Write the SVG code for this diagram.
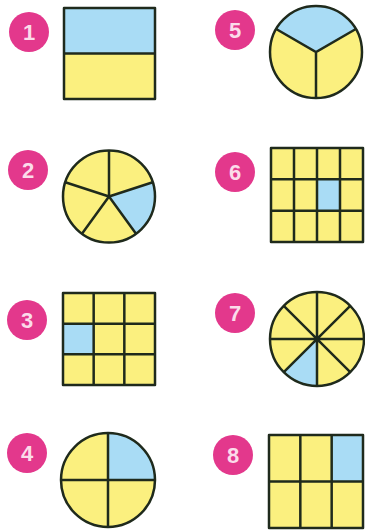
<svg xmlns="http://www.w3.org/2000/svg" width="365" height="532" viewBox="0 0 365 532">
<style>
.b{fill:#a9dcf5}
.y{fill:#fbf07f}
.s{fill:none;stroke:#1f2a1c;stroke-width:2.5;stroke-linejoin:round}
.l{stroke:#1f2a1c;stroke-width:2.5;fill:none}
.badge{fill:#e3388c}
.n{fill:#fbdcea;font-family:"Liberation Sans",Arial,sans-serif;font-weight:bold;font-size:22px;text-anchor:middle;dominant-baseline:central}
</style>
<rect width="365" height="532" fill="#ffffff"/>
<g id="item1">
<circle class="badge" cx="29" cy="32" r="20"/><text class="n" x="29" y="32">1</text>
<rect class="b" x="64" y="8" width="91" height="45.5"/>
<rect class="y" x="64" y="53.5" width="91" height="45.5"/>
<rect class="s" x="64" y="8" width="91" height="91"/>
<line class="l" x1="64" y1="53.5" x2="155" y2="53.5"/>
</g>
<g id="item5">
<circle class="badge" cx="235" cy="30" r="20"/><text class="n" x="235" y="30">5</text>
<circle class="y" cx="316" cy="52" r="46"/>
<path class="b" d="M316,52 L276.16,29 A46,46 0 0 1 355.84,29 Z"/>
<circle class="s" cx="316" cy="52" r="46"/>
<path class="l" d="M276.16,29 L316,52 L355.84,29 M316,52 L316,98"/>
</g>
<g id="item2">
<circle class="badge" cx="28" cy="170" r="20"/><text class="n" x="28" y="170">2</text>
<circle class="y" cx="109" cy="196.5" r="46"/>
<path class="b" d="M109,196.5 L152.75,182.29 A46,46 0 0 1 136.04,233.71 Z"/>
<circle class="s" cx="109" cy="196.5" r="46"/>
<path class="l" d="M109,196.5 L109,150.5 M109,196.5 L152.75,182.29 M109,196.5 L136.04,233.71 M109,196.5 L81.96,233.71 M109,196.5 L65.25,182.29"/>
</g>
<g id="item6">
<circle class="badge" cx="235" cy="172" r="20"/><text class="n" x="235" y="172">6</text>
<rect class="y" x="271" y="148" width="92" height="94"/>
<rect class="b" x="317" y="179.33" width="23" height="31.33"/>
<rect class="s" x="271" y="148" width="92" height="94"/>
<path class="l" d="M294,148 V242 M317,148 V242 M340,148 V242 M271,179.33 H363 M271,210.67 H363"/>
</g>
<g id="item3">
<circle class="badge" cx="27" cy="320" r="20"/><text class="n" x="27" y="320">3</text>
<rect class="y" x="63" y="293" width="92" height="92"/>
<rect class="b" x="63" y="323.67" width="30.67" height="30.67"/>
<rect class="s" x="63" y="293" width="92" height="92"/>
<path class="l" d="M93.67,293 V385 M124.33,293 V385 M63,323.67 H155 M63,354.33 H155"/>
</g>
<g id="item7">
<circle class="badge" cx="235" cy="313" r="20"/><text class="n" x="235" y="313">7</text>
<circle class="y" cx="317" cy="339" r="47"/>
<path class="b" d="M317,339 L317,386 A47,47 0 0 1 283.77,372.23 Z"/>
<circle class="s" cx="317" cy="339" r="47"/>
<path class="l" d="M317,292 V386 M270,339 H364 M283.77,305.77 L350.23,372.23 M350.23,305.77 L283.77,372.23"/>
</g>
<g id="item4">
<circle class="badge" cx="27" cy="453" r="20"/><text class="n" x="27" y="453">4</text>
<circle class="y" cx="108" cy="480" r="47"/>
<path class="b" d="M108,480 L108,433 A47,47 0 0 1 155,480 Z"/>
<circle class="s" cx="108" cy="480" r="47"/>
<path class="l" d="M108,433 V527 M61,480 H155"/>
</g>
<g id="item8">
<circle class="badge" cx="233" cy="455" r="20"/><text class="n" x="233" y="455">8</text>
<rect class="y" x="269" y="435" width="94" height="93"/>
<rect class="b" x="331.67" y="435" width="31.33" height="46.5"/>
<rect class="s" x="269" y="435" width="94" height="93"/>
<path class="l" d="M300.33,435 V528 M331.67,435 V528 M269,481.5 H363"/>
</g>
<g id="connectors"></g>
</svg>
